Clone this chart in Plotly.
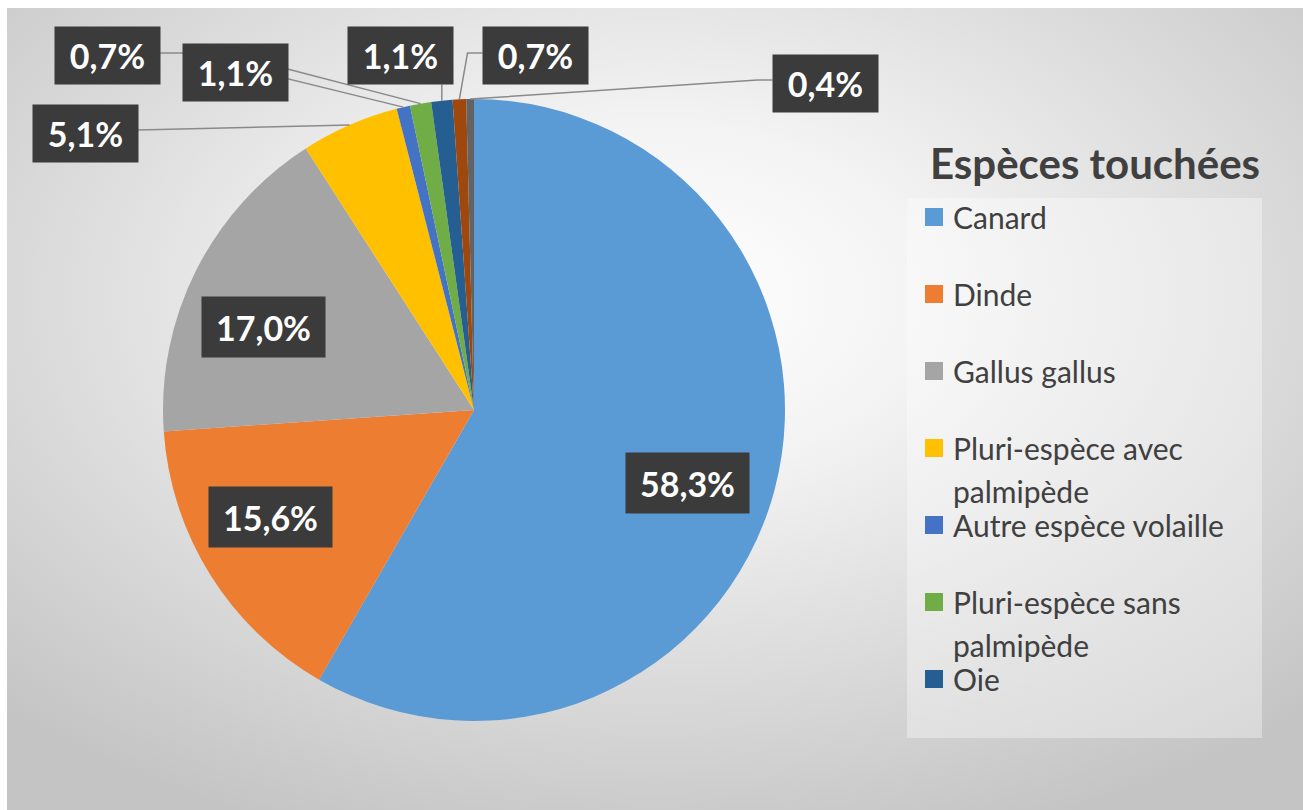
import math
import textwrap
import urllib.parse
import plotly.graph_objects as go

# ---------------- data ----------------
species = ["Canard", "Dinde", "Gallus gallus", "Pluri-espèce avec palmipède",
           "Autre espèce volaille", "Pluri-espèce sans palmipède", "Oie",
           "Espèce 8", "Espèce 9"]
shares = [58.3, 15.6, 17.0, 5.1, 0.7, 1.1, 1.1, 0.7, 0.4]
colors = ["#5B9BD5", "#ED7D31", "#A5A5A5", "#FFC000", "#4472C4",
          "#70AD47", "#255E91", "#9E480E", "#636363"]
legend_count = 7          # only the first 7 entries are visible in the legend
legend_title = "Espèces touchées"

# ---------------- layout constants (pixels) ----------------
W, H = 1303, 810
CX, CY, R = 474, 410, 311            # pie centre / radius
# label box centres for the large slices (index -> centre)
inside_boxes = {0: (688, 483), 1: (270, 517), 2: (263, 327)}
# box centre and side of the leader line for the small slices (index -> spec)
outside_boxes = {
    3: (85, 133, "right", 0),
    4: (107, 56, "right", 23),
    5: (235, 72, "right", 0),
    6: (400, 56, "bottom", 0),
    7: (535, 56, "left", 15),
    8: (825, 83, "left", 15),
}
SMALL_W, SMALL_H = 105, 57
BIG_W, BIG_H = 123, 60
BOX_COLOR = "#3b3b3b"
TXT_FONT = "Lato"


def px(x):
    return x / W


def py(y):
    return 1 - y / H


fig = go.Figure()

fig.add_trace(go.Pie(
    labels=species, values=shares, sort=False, direction="clockwise",
    rotation=0, marker=dict(colors=colors, line=dict(width=0)),
    textinfo="none", hoverinfo="label+percent", showlegend=False,
    domain=dict(x=[px(CX - R), px(CX + R)], y=[py(CY + R), py(CY - R)]),
))

# background radial gradient
svg = ('<svg xmlns="http://www.w3.org/2000/svg" width="1296" height="802" '
       'viewBox="0 0 1296 802" preserveAspectRatio="none"><defs>'
       '<radialGradient id="g" cx="0.5" cy="0.36" r="0.72">'
       '<stop offset="0" stop-color="#ffffff"/>'
       '<stop offset="0.3" stop-color="#f3f3f3"/>'
       '<stop offset="1" stop-color="#c4c4c4"/>'
       '</radialGradient></defs>'
       '<rect width="1296" height="802" fill="url(#g)"/></svg>')
bg_src = "data:image/svg+xml;charset=utf-8," + urllib.parse.quote(svg)

images = [dict(source=bg_src, xref="paper", yref="paper", x=px(7), y=py(8),
               sizex=px(W - 7), sizey=(H - 8) / H, xanchor="left",
               yanchor="top", sizing="stretch", layer="below")]

shapes = []
annotations = []

total = sum(shares)
cum = 0.0
for i, v in enumerate(shares):
    mid = (cum + v / 2) / total * 2 * math.pi
    cum += v
    txt = f"{v:.1f}%".replace(".", ",")
    if i in outside_boxes:
        bx, by, side, elbow = outside_boxes[i]
        ax = CX + R * math.sin(mid)
        ay = CY - R * math.cos(mid)
        if side == "right":
            sx, sy = bx + SMALL_W / 2, by - 3
            ex, ey = sx + elbow, sy
        elif side == "left":
            sx, sy = bx - SMALL_W / 2, by - 3
            ex, ey = sx - elbow, sy
        else:
            sx, sy = ax, by + SMALL_H / 2
            ex, ey = sx, sy
        path = (f"M {px(sx)} {py(sy)} L {px(ex)} {py(ey)} "
                f"L {px(ax)} {py(ay)}")
        shapes.append(dict(type="path", xref="paper", yref="paper",
                           path=path, line=dict(color="#8a8a8a", width=1.5)))
        annotations.append(dict(
            x=px(bx), y=py(by), xref="paper", yref="paper",
            xanchor="center", yanchor="middle", text=f"<b>{txt}</b>",
            showarrow=False, bgcolor=BOX_COLOR, width=SMALL_W - 8,
            height=SMALL_H - 8, borderpad=4, valign="middle",
            font=dict(family=TXT_FONT, size=34, color="white")))
    else:
        lx, ly = inside_boxes[i]
        annotations.append(dict(
            x=px(lx), y=py(ly), xref="paper", yref="paper",
            xanchor="center", yanchor="middle", text=f"<b>{txt}</b>",
            showarrow=False, bgcolor=BOX_COLOR, width=BIG_W - 8,
            height=BIG_H - 8, borderpad=4, valign="middle",
            font=dict(family=TXT_FONT, size=34, color="white")))

# legend (manual)
annotations.append(dict(
    x=px(928), y=py(163), xref="paper", yref="paper",
    xanchor="left", yanchor="middle",
    text=f"<b>{legend_title}</b>", showarrow=False,
    font=dict(family=TXT_FONT, size=42, color="#404040")))
shapes.append(dict(type="rect", xref="paper", yref="paper",
                   x0=px(907), x1=px(1262), y0=py(738), y1=py(198),
                   fillcolor="rgba(255,255,255,0.35)", line=dict(width=0),
                   layer="below"))
LEG_Y0, LEG_PITCH, LEG_LINE = 217, 77, 43
for i in range(legend_count):
    yc = LEG_Y0 + LEG_PITCH * i
    shapes.append(dict(type="rect", xref="paper", yref="paper",
                       x0=px(925), x1=px(943), y0=py(yc + 9), y1=py(yc - 9),
                       fillcolor=colors[i], line=dict(width=0)))
    for k, line in enumerate(textwrap.wrap(species[i], width=21,
                                           break_on_hyphens=False)):
        annotations.append(dict(
            x=px(951), y=py(yc + LEG_LINE * k), xref="paper", yref="paper",
            xanchor="left", yanchor="middle", text=line, showarrow=False,
            font=dict(family=TXT_FONT, size=30, color="#404040")))

fig.update_layout(
    width=W, height=H, margin=dict(l=0, r=0, t=0, b=0),
    paper_bgcolor="white", plot_bgcolor="white",
    images=images, shapes=shapes, annotations=annotations,
    showlegend=False,
)

fig.write_html("out.html")
